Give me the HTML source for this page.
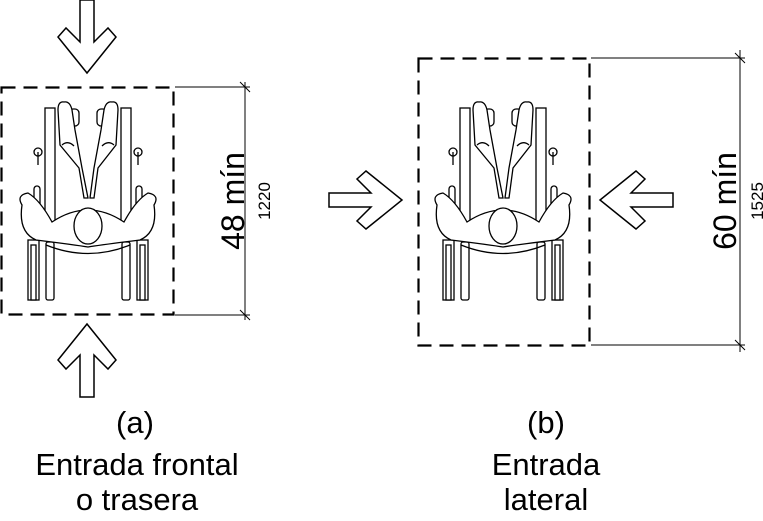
<!DOCTYPE html>
<html><head><meta charset="utf-8"><style>
html,body{margin:0;padding:0;background:#fff;width:763px;height:521px;overflow:hidden}
svg{display:block}
text{font-family:"Liberation Sans",sans-serif;fill:#000}
</style></head><body>
<svg width="763" height="521" viewBox="0 0 763 521" xmlns="http://www.w3.org/2000/svg">
<defs>
<polygon id="arr" points="-7,-37 7,-37 7,5 21,-9 29,0 0,36 -29,0 -21,-9 -7,5" fill="#fff" stroke="#000" stroke-width="1.5"/>
<g id="wc" fill="#fff" stroke="#000" stroke-width="1.3">
  <rect x="28" y="240" width="11" height="60"/>
  <rect x="137" y="240" width="11" height="60"/>
  <rect x="31" y="245" width="5" height="55"/>
  <rect x="140" y="245" width="5" height="55"/>
  <rect x="46" y="242" width="8" height="58" rx="2"/>
  <rect x="122" y="242" width="8" height="58" rx="2"/>
  <rect x="45" y="108" width="10" height="120"/>
  <rect x="121" y="108" width="10" height="120"/>
  <rect x="34" y="186" width="6" height="44" rx="3"/>
  <rect x="136" y="186" width="6" height="44" rx="3"/>
  <circle cx="38" cy="152" r="4"/><circle cx="138" cy="152" r="4"/>
  <line x1="38" y1="152" x2="38" y2="165"/><line x1="138" y1="152" x2="138" y2="165"/>
  <rect x="69" y="109" width="10" height="17" rx="4"/>
  <rect x="97" y="109" width="10" height="17" rx="4"/>
  <path d="M58,110 Q58,101 64,102 Q70,101 72,110 L75,130 L82,168 L88,198 L84,198 L79,168 L60,145 Z"/>
  <path d="M118,110 Q118,101 112,102 Q106,101 104,110 L101,130 L94,168 L90,198 L94,198 L98,168 L116,145 Z"/>
  <path d="M62,145 Q68,140 74,146 M102,146 Q108,140 114,145" fill="none"/>
  <path d="M22,205 Q16,195 28,193 Q40,200 52,222 Q88,198 124,222 Q136,200 148,193 Q160,195 154,205 Q158,232 140,240 Q100,245 88,247 Q76,245 36,240 Q18,232 22,205 Z"/>
  <path d="M46,245 Q88,262 130,245" fill="none"/>
  <ellipse cx="88" cy="226" rx="14" ry="18"/>
</g>
</defs>
<rect x="1.5" y="87.5" width="172" height="227" fill="none" stroke="#000" stroke-width="2.2" stroke-dasharray="14,8"/>
<use href="#wc" x="0" y="0"/>
<use href="#arr" transform="translate(87,37)"/>
<use href="#arr" transform="translate(87,360) rotate(180)"/>
<g stroke="#000" stroke-width="1" fill="none">
<line x1="175" y1="87" x2="250" y2="87"/><line x1="175" y1="315" x2="250" y2="315"/>
<line x1="245" y1="82" x2="245" y2="320"/>
<line x1="240" y1="82" x2="250" y2="92"/><line x1="240" y1="310" x2="250" y2="320"/>
</g>
<text transform="translate(244,201) rotate(-90)" font-size="32" text-anchor="middle">48 mín</text>
<text transform="translate(270,201) rotate(-90)" font-size="17" text-anchor="middle">1220</text>
<rect x="418.5" y="58.5" width="171" height="287" fill="none" stroke="#000" stroke-width="2.2" stroke-dasharray="14,8"/>
<use href="#wc" x="415" y="0"/>
<use href="#arr" transform="translate(366,200) rotate(-90)"/>
<use href="#arr" transform="translate(636,200) rotate(90)"/>
<g stroke="#000" stroke-width="1" fill="none">
<line x1="591" y1="58" x2="745" y2="58"/><line x1="591" y1="345" x2="745" y2="345"/>
<line x1="740" y1="50" x2="740" y2="352"/>
<line x1="735" y1="53" x2="745" y2="63"/><line x1="735" y1="340" x2="745" y2="350"/>
</g>
<text transform="translate(736,201) rotate(-90)" font-size="32" text-anchor="middle">60 mín</text>
<text transform="translate(763,201) rotate(-90)" font-size="17" text-anchor="middle">1525</text>
<g font-size="31" text-anchor="middle">
<text x="135" y="433">(a)</text>
<text x="137" y="475">Entrada frontal</text>
<text x="137" y="510">o trasera</text>
<text x="546" y="433">(b)</text>
<text x="546" y="475">Entrada</text>
<text x="546" y="510">lateral</text>
</g>
</svg>
</body></html>
